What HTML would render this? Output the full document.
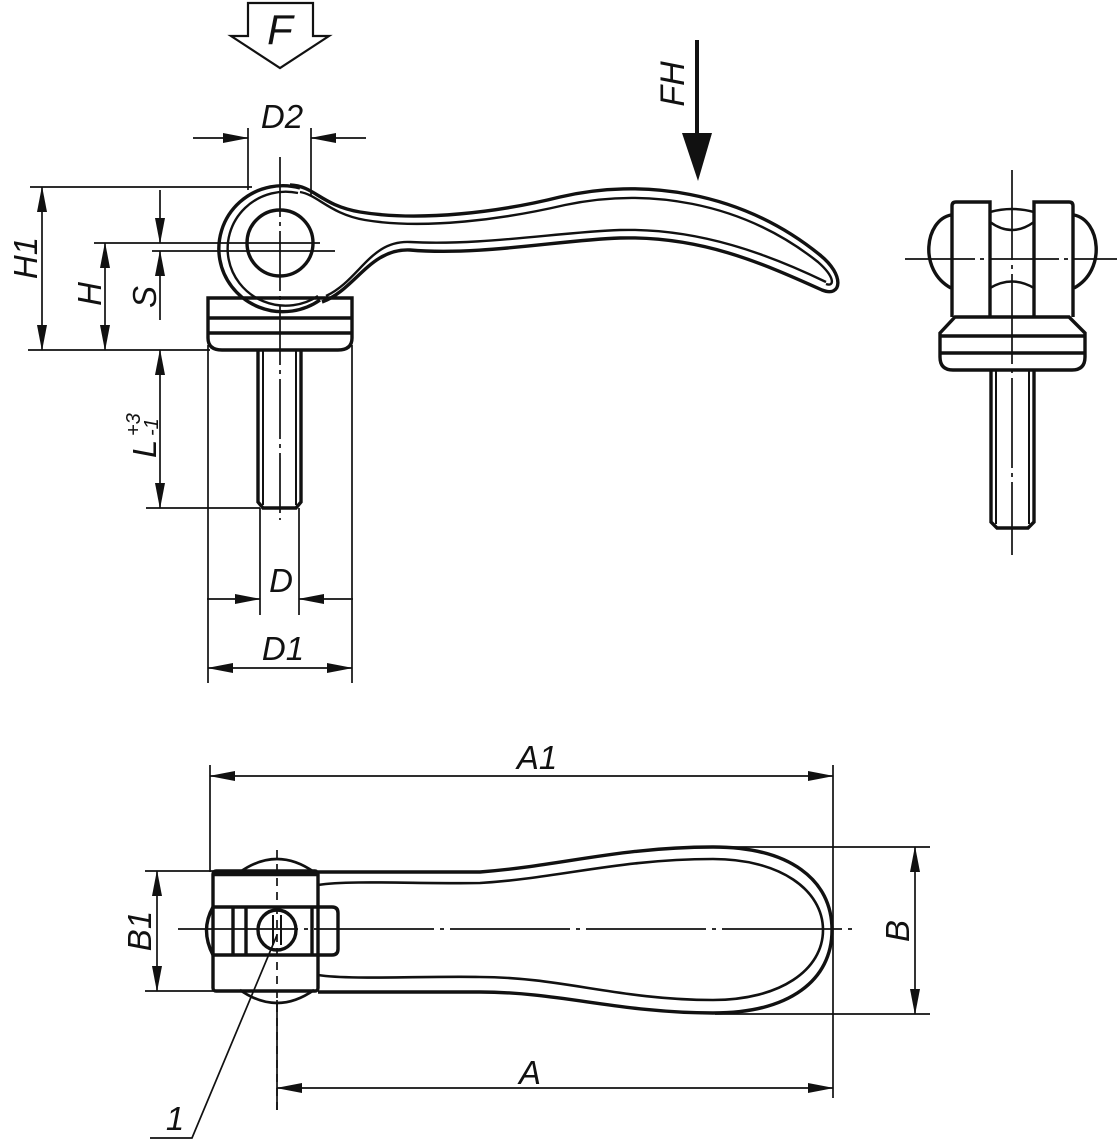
<!DOCTYPE html>
<html><head><meta charset="utf-8"><style>html,body{margin:0;padding:0;background:#fff}svg{display:block}text{font-family:"Liberation Sans",sans-serif;font-style:italic;fill:#111}</style></head>
<body>
<svg width="1119" height="1145" viewBox="0 0 1119 1145" xmlns="http://www.w3.org/2000/svg">
<defs>
<marker id="ar" markerWidth="26" markerHeight="10" refX="25" refY="5" orient="auto-start-reverse" markerUnits="userSpaceOnUse"><path d="M0,0 L26,5 L0,10z" fill="#111"/></marker>
</defs>
<g fill="none" stroke="#111" stroke-width="1.7">
<path d="M248,3 H313 V36 H329 L280,68 L231,36 H248 Z" stroke-width="2.2"/>
<line x1="248" y1="128" x2="248" y2="190"/><line x1="311" y1="128" x2="311" y2="195"/>
<line x1="193" y1="138" x2="248" y2="138" marker-end="url(#ar)"/>
<line x1="366" y1="138" x2="311" y2="138" marker-end="url(#ar)"/>
<line x1="280" y1="157" x2="280" y2="520" stroke-dasharray="60,5,4,5"/>
<line x1="94" y1="243" x2="320" y2="243"/>
<line x1="152" y1="251" x2="335" y2="251"/>
<line x1="30" y1="187" x2="252" y2="187"/><line x1="28" y1="350" x2="210" y2="350"/>
<line x1="42" y1="187" x2="42" y2="350" marker-start="url(#ar)" marker-end="url(#ar)"/>
<line x1="105" y1="243" x2="105" y2="350" marker-start="url(#ar)" marker-end="url(#ar)"/>
<line x1="160" y1="190" x2="160" y2="243" marker-end="url(#ar)"/>
<line x1="160" y1="320" x2="160" y2="251" marker-end="url(#ar)"/>
<line x1="146" y1="508" x2="260" y2="508"/>
<line x1="160" y1="350" x2="160" y2="508" marker-start="url(#ar)" marker-end="url(#ar)"/>
<line x1="208" y1="345" x2="208" y2="683"/><line x1="352" y1="345" x2="352" y2="683"/>
<line x1="208" y1="668" x2="352" y2="668" marker-start="url(#ar)" marker-end="url(#ar)"/>
<line x1="260" y1="508" x2="260" y2="615"/><line x1="299" y1="508" x2="299" y2="615"/>
<line x1="207" y1="599" x2="260" y2="599" marker-end="url(#ar)"/>
<line x1="353" y1="599" x2="299" y2="599" marker-end="url(#ar)"/>
</g>
<g fill="none" stroke="#111" stroke-width="3.4">
<path d="M320,300 A64,63 0 1 1 300,188" />
<path d="M318,296 A58,57 0 1 1 298,193" stroke-width="2.4"/>
<circle cx="280" cy="243" r="33"/>
<path d="M290,185 C315,186 320,205 360,212 C420,222 500,212 560,197 C640,178 740,190 820,255 C845,275 842,298 822,290 C760,262 700,236 620,238 C560,240 480,256 410,250 C370,248 355,290 322,302"/>
<path d="M300,192 C318,195 330,214 365,220 C425,230 505,219 565,205 C645,188 740,200 818,262 C836,278 834,287 826,284" stroke-width="2.4"/>
<path d="M326,296 C360,280 370,240 410,242 C480,246 560,232 620,230 C700,228 770,255 826,282" stroke-width="2.4"/>
<path d="M208,298 H352 V338 Q352,350 338,350 H222 Q208,350 208,338 Z"/>
<line x1="208" y1="318" x2="352" y2="318"/><line x1="208" y1="333" x2="352" y2="333"/>
<path d="M258,350 V502 L263,508 H296 L301,502 V350"/>
<line x1="263" y1="350" x2="263" y2="505" stroke-width="2"/><line x1="296" y1="350" x2="296" y2="505" stroke-width="2"/>
</g>
<line x1="697" y1="40" x2="697" y2="140" stroke="#111" stroke-width="4"/>
<path d="M682,133 L712,133 L698,181 Z" fill="#111"/>
<g fill="none" stroke="#111" stroke-width="1.7">
<line x1="1012" y1="170" x2="1012" y2="555" stroke-dasharray="90,5,4,5"/>
<line x1="905" y1="259" x2="1117" y2="259" stroke-dasharray="70,5,4,5"/>
</g>
<g fill="none" stroke="#111" stroke-width="3.4">
<path d="M952,317 V206 Q952,202 956,202 H990 V317"/>
<path d="M1073,317 V206 Q1073,202 1069,202 H1034 V317"/>
<path d="M951,215 C925,220 918,270 951,288"/>
<path d="M1074,215 C1100,220 1107,270 1074,288"/>
<path d="M990,212 Q1012,206 1034,212 M990,222 Q1012,238 1034,222" stroke-width="2.5"/>
<path d="M990,288 Q1012,275 1034,288" stroke-width="2.5"/>
<path d="M955,317 H1069 L1085,333 V357 Q1085,370 1072,370 H953 Q940,370 940,357 V333 Z"/>
<line x1="940" y1="336" x2="1085" y2="336"/><line x1="940" y1="353" x2="1085" y2="353"/>
<path d="M991,370 V522 L997,528 H1028 L1034,522 V370"/>
<line x1="996" y1="370" x2="996" y2="524" stroke-width="2"/><line x1="1029" y1="370" x2="1029" y2="524" stroke-width="2"/>
</g>
<g fill="none" stroke="#111" stroke-width="1.7">
<line x1="178" y1="929" x2="855" y2="929" stroke-dasharray="120,6,4,6"/>
<line x1="277" y1="850" x2="277" y2="1110" stroke-dasharray="8,6"/>
<line x1="210" y1="765" x2="210" y2="872"/><line x1="833" y1="765" x2="833" y2="1098"/>
<line x1="210" y1="776" x2="833" y2="776" marker-start="url(#ar)" marker-end="url(#ar)"/>
<line x1="277" y1="1000" x2="277" y2="1110"/>
<line x1="277" y1="1088" x2="833" y2="1088" marker-start="url(#ar)" marker-end="url(#ar)"/>
<line x1="145" y1="871" x2="215" y2="871"/><line x1="145" y1="991" x2="215" y2="991"/>
<line x1="157" y1="871" x2="157" y2="991" marker-start="url(#ar)" marker-end="url(#ar)"/>
<line x1="715" y1="847" x2="930" y2="847"/><line x1="715" y1="1014" x2="930" y2="1014"/>
<line x1="915" y1="847" x2="915" y2="1014" marker-start="url(#ar)" marker-end="url(#ar)"/>
<path d="M277,935 L192,1138 H150"/>
</g>
<g fill="none" stroke="#111" stroke-width="3.4">
<path d="M318,872 L480,872 C560,866 620,847 713,847 C790,847 832,880 832,930 C832,980 790,1013 713,1013 C620,1013 560,992 480,992 L318,992"/>
<path d="M318,885 C350,880 420,884 480,883 C560,878 620,859 713,859 C780,859 823,890 823,930 C823,970 780,1000 713,1000 C620,1000 560,977 480,977 C420,976 350,980 318,975" stroke-width="2.6"/>
<rect x="213" y="871" width="105" height="120" rx="3"/>
<line x1="213" y1="874" x2="318" y2="874" stroke-width="4.5"/>
<path d="M240,872 Q277,846 314,872 M240,990 Q277,1016 314,990" stroke-width="2.6"/>
<path d="M213,907 H332 Q338,907 338,913 V949 Q338,955 332,955 H213 Q200,930 213,907 Z"/>
<line x1="233" y1="907" x2="233" y2="955"/><line x1="246" y1="907" x2="246" y2="955"/><line x1="312" y1="907" x2="312" y2="955"/>
<ellipse cx="277" cy="930" rx="19" ry="20"/>
<line x1="273" y1="915" x2="273" y2="945" stroke-width="2"/><line x1="281" y1="915" x2="281" y2="945" stroke-width="2"/>
</g>
<text x="280" y="44" font-size="42" text-anchor="middle">F</text>
<text x="282" y="128" font-size="33" text-anchor="middle">D2</text>
<text transform="translate(684,84) rotate(-90)" font-size="34" text-anchor="middle">FH</text>
<text transform="translate(37,258) rotate(-90)" font-size="33" text-anchor="middle">H1</text>
<text transform="translate(101,294) rotate(-90)" font-size="33" text-anchor="middle">H</text>
<text transform="translate(156,297) rotate(-90)" font-size="33" text-anchor="middle">S</text>
<text transform="translate(156,458) rotate(-90)" font-size="33">L</text>
<text transform="translate(140,436) rotate(-90)" font-size="20">+3</text>
<text transform="translate(158,436) rotate(-90)" font-size="20">-1</text>
<text x="281" y="592" font-size="33" text-anchor="middle">D</text>
<text x="283" y="660" font-size="33" text-anchor="middle">D1</text>
<text x="537" y="769" font-size="33" text-anchor="middle">A1</text>
<text x="530" y="1084" font-size="33" text-anchor="middle">A</text>
<text transform="translate(151,931) rotate(-90)" font-size="33" text-anchor="middle">B1</text>
<text transform="translate(909,931) rotate(-90)" font-size="33" text-anchor="middle">B</text>
<text x="175" y="1130" font-size="33" text-anchor="middle">1</text>
</svg>
</body></html>
